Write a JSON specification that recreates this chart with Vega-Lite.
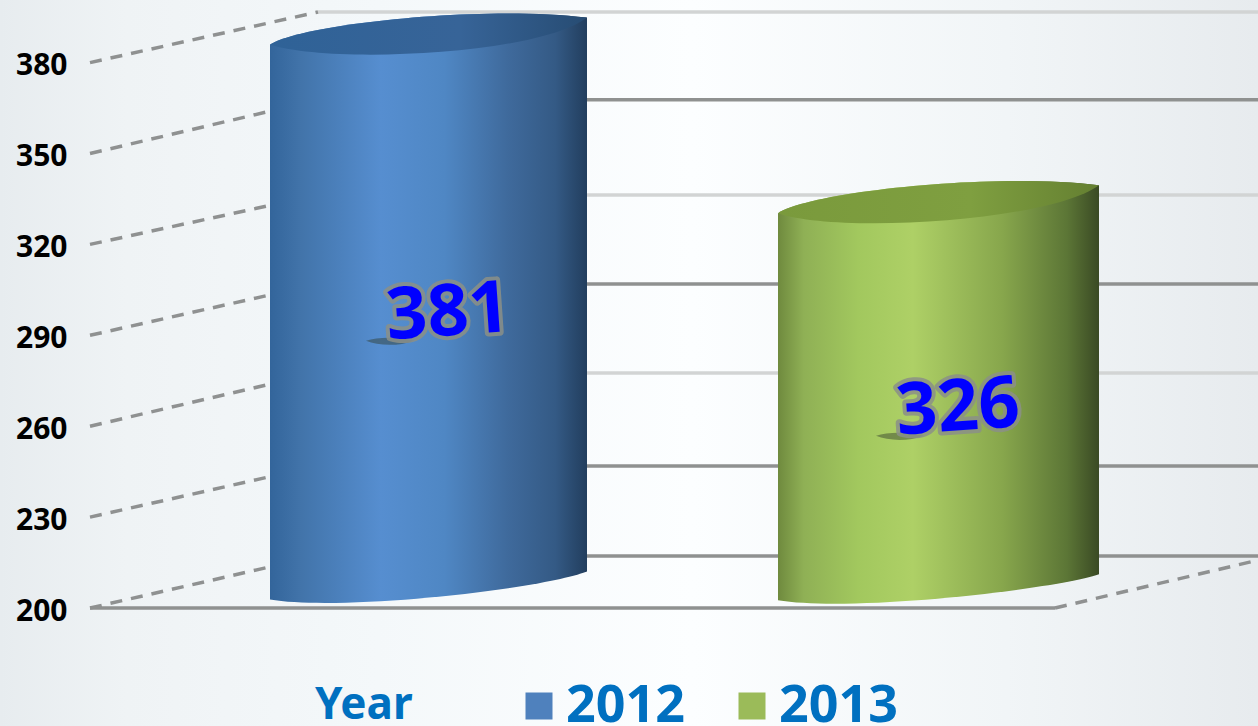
{
"$schema":"https://vega.github.io/schema/vega-lite/v6.json",
"width":1258,"height":726,"padding":0,"autosize":{"type":"none"},
"background":"#f3f7f9",
"config":{"view":{"stroke":null},"font":"Noto Sans"},
"datasets":{
"bars":[{"year":"2012","value":381,"labelAt":296.8},{"year":"2013","value":326,"labelAt":265.4}],
"grid":[
{"tick":380,"back":396.7,"tone":"light"},
{"tick":350,"back":367.7,"tone":"dark"},
{"tick":320,"back":336.3,"tone":"light"},
{"tick":290,"back":306.9,"tone":"dark"},
{"tick":260,"back":277.6,"tone":"light"},
{"tick":230,"back":246.9,"tone":"dark"},
{"tick":200,"back":217.2,"tone":"dark"}],
"floor":[{"from":90,"to":1055,"level":200,"end":200},{"from":1055,"to":1258,"level":200,"end":215.8}],
"bg":[{"left":0,"right":1258,"low":161.06,"high":400.66}]
},
"layer":[
{"data":{"name":"bg"},"mark":{"type":"rect","fill":{"gradient":"linear","x1":0,"y1":0,"x2":1,"y2":0,"stops":[{"offset":0,"color":"#e7ecef"},{"offset":0.1,"color":"#eff3f5"},{"offset":0.3,"color":"#f4f8fa"},{"offset":0.55,"color":"#fcfeff"},{"offset":0.8,"color":"#f1f5f7"},{"offset":1,"color":"#e7ebee"}]}},
 "encoding":{"x":{"field":"left","type":"quantitative","scale":{"domain":[0,1258],"nice":false,"zero":false},"axis":null},"x2":{"field":"right"},
 "y":{"field":"low","type":"quantitative","scale":{"domain":[161.06,400.66],"nice":false,"zero":false},"axis":{"values":[200,230,260,290,320,350,380],"title":null,"domain":false,"ticks":false,"grid":false,"offset":-76,"zindex":1,"labelPadding":9,"labelOffset":3,"labelFont":"Noto Sans","labelFontWeight":"bold","labelFontSize":30,"labelColor":"#000000","labelBaseline":"middle"}},"y2":{"field":"high"}}},
{"data":{"name":"grid"},"transform":[{"filter":"datum.tone==='light'"}],"mark":{"type":"rule","stroke":"#d2d4d4","strokeWidth":3.5},
 "encoding":{"x":{"datum":318,"type":"quantitative","scale":{"domain":[0,1258],"nice":false,"zero":false},"axis":null},"x2":{"datum":1258},"y":{"field":"back","type":"quantitative"}}},
{"data":{"name":"grid"},"transform":[{"filter":"datum.tone==='dark'"}],"mark":{"type":"rule","stroke":"#8f9190","strokeWidth":3.5},
 "encoding":{"x":{"datum":318,"type":"quantitative","scale":{"domain":[0,1258],"nice":false,"zero":false},"axis":null},"x2":{"datum":1258},"y":{"field":"back","type":"quantitative"}}},
{"data":{"name":"grid"},"mark":{"type":"rule","stroke":"#8f9191","strokeWidth":3.5,"strokeDash":[12,9]},
 "encoding":{"x":{"datum":90,"type":"quantitative","scale":{"domain":[0,1258],"nice":false,"zero":false},"axis":null},"x2":{"datum":318},"y":{"field":"tick","type":"quantitative"},"y2":{"field":"back"}}},
{"data":{"name":"floor"},"transform":[{"filter":"datum.level===datum.end"}],"mark":{"type":"rule","stroke":"#8f9190","strokeWidth":3.5},
 "encoding":{"x":{"field":"from","type":"quantitative","scale":{"domain":[0,1258],"nice":false,"zero":false},"axis":null},"x2":{"field":"to"},"y":{"field":"level","type":"quantitative"}}},
{"data":{"name":"floor"},"transform":[{"filter":"datum.level!==datum.end"}],"mark":{"type":"rule","stroke":"#8f9191","strokeWidth":3.5,"strokeDash":[12,9]},
 "encoding":{"x":{"field":"from","type":"quantitative","scale":{"domain":[0,1258],"nice":false,"zero":false},"axis":null},"x2":{"field":"to"},"y":{"field":"level","type":"quantitative"},"y2":{"field":"end"}}},
{"data":{"name":"bars"},"mark":{"type":"point","shape":"square","filled":true,"size":4,"opacity":1},
 "encoding":{"x":{"field":"year","type":"nominal","scale":{"type":"point","padding":0,"domain":["2012","2013"],"range":[428,938]},"axis":null},"y":{"datum":250,"type":"quantitative"},
 "color":{"field":"year","type":"nominal","scale":{"domain":["2012","2013"],"range":["#4f81bd","#9bbb59"]},
 "legend":{"orient":"none","legendX":315,"legendY":680,"direction":"horizontal","columns":2,"title":"Year","titleOrient":"left","titleFont":"Noto Sans","titleFontWeight":"bold","titleFontSize":44,"titleColor":"#0070c0","titlePadding":100,"symbolType":"square","symbolSize":729,"symbolStrokeWidth":0,"symbolOpacity":1,"labelFont":"Noto Sans","labelFontWeight":"bold","labelFontSize":52,"labelColor":"#0070c0","labelOffset":1,"columnPadding":41,"clipHeight":52}}}},
{"data":{"name":"bars"},"transform":[{"filter":"datum.year==='2012'"}],"mark":{"type":"point","filled":true,"size":4,"opacity":1,"shape":"M-158 -15 C-128 -35 52 -55 159 -42 L159 512 C112 530 -88 552 -158 540 Z","fill":{"gradient":"linear","x1":0,"y1":0,"x2":1,"y2":0,"stops":[{"offset":0,"color":"#33659b"},{"offset":0.1,"color":"#4274aa"},{"offset":0.35,"color":"#568ed0"},{"offset":0.55,"color":"#4f87c4"},{"offset":0.75,"color":"#3f6a9c"},{"offset":0.9,"color":"#345a85"},{"offset":1,"color":"#223e5e"}]}},
 "encoding":{"x":{"field":"year","type":"nominal","scale":{"type":"point","padding":0,"domain":["2012","2013"],"range":[428,938]},"axis":null},"y":{"field":"value","type":"quantitative"}}},
{"data":{"name":"bars"},"transform":[{"filter":"datum.year==='2012'"}],"mark":{"type":"point","filled":true,"size":4,"opacity":1,"shape":"M-158 -15 C-128 -35 52 -55 159 -42 C112 -5 -98 5 -158 -15 Z","fill":{"gradient":"linear","x1":0,"y1":0,"x2":1,"y2":0,"stops":[{"offset":0,"color":"#2f6297"},{"offset":0.6,"color":"#376498"},{"offset":1,"color":"#274c73"}]}},
 "encoding":{"x":{"field":"year","type":"nominal","scale":{"type":"point","padding":0,"domain":["2012","2013"],"range":[428,938]},"axis":null},"y":{"field":"value","type":"quantitative"}}},
{"data":{"name":"bars"},"transform":[{"filter":"datum.year==='2013'"}],"mark":{"type":"point","filled":true,"size":4,"opacity":1,"shape":"M-160 -13 C-128 -34 52 -54 161 -41 L161 348 C112 364 -88 386 -160 374 Z","fill":{"gradient":"linear","x1":0,"y1":0,"x2":1,"y2":0,"stops":[{"offset":0,"color":"#6f8a3e"},{"offset":0.08,"color":"#8fb055"},{"offset":0.25,"color":"#a2c85e"},{"offset":0.42,"color":"#aed066"},{"offset":0.7,"color":"#87a64c"},{"offset":0.9,"color":"#5c7636"},{"offset":1,"color":"#3a4a24"}]}},
 "encoding":{"x":{"field":"year","type":"nominal","scale":{"type":"point","padding":0,"domain":["2012","2013"],"range":[428,938]},"axis":null},"y":{"field":"value","type":"quantitative"}}},
{"data":{"name":"bars"},"transform":[{"filter":"datum.year==='2013'"}],"mark":{"type":"point","filled":true,"size":4,"opacity":1,"shape":"M-160 -13 C-128 -34 52 -54 161 -41 C112 -5 -100 8 -160 -13 Z","fill":{"gradient":"linear","x1":0,"y1":0,"x2":1,"y2":0,"stops":[{"offset":0,"color":"#7a9a3c"},{"offset":0.6,"color":"#7f9f40"},{"offset":1,"color":"#647f31"}]}},
 "encoding":{"x":{"field":"year","type":"nominal","scale":{"type":"point","padding":0,"domain":["2012","2013"],"range":[428,938]},"axis":null},"y":{"field":"value","type":"quantitative"}}},
{"data":{"name":"bars"},"mark":{"type":"point","filled":true,"size":4,"fill":"#2e3a2a","opacity":0.45,"shape":"M-62 26 C-50 22 -30 22 -14 26 C-30 32 -50 31 -62 26 Z"},
 "encoding":{"x":{"field":"year","type":"nominal","scale":{"type":"point","padding":0,"domain":["2012","2013"],"range":[428,938]},"axis":null},"y":{"field":"labelAt","type":"quantitative"}}},
{"data":{"name":"bars"},"mark":{"type":"text","font":"Noto Sans","fontWeight":"bold","fontSize":72,"angle":-4,"dx":20,"baseline":"middle","align":"center","stroke":"#8b9088","strokeWidth":8,"strokeJoin":"round","opacity":0.85,"fill":"#8b9088"},
 "encoding":{"x":{"field":"year","type":"nominal","scale":{"type":"point","padding":0,"domain":["2012","2013"],"range":[428,938]},"axis":null},"y":{"field":"labelAt","type":"quantitative"},"text":{"field":"value","type":"quantitative"}}},
{"data":{"name":"bars"},"mark":{"type":"text","font":"Noto Sans","fontWeight":"bold","fontSize":72,"angle":-4,"dx":20,"baseline":"middle","align":"center","fill":"#0000ff"},
 "encoding":{"x":{"field":"year","type":"nominal","scale":{"type":"point","padding":0,"domain":["2012","2013"],"range":[428,938]},"axis":null},"y":{"field":"labelAt","type":"quantitative"},"text":{"field":"value","type":"quantitative"}}}
],
"resolve":{"scale":{"x":"independent"}}
}
